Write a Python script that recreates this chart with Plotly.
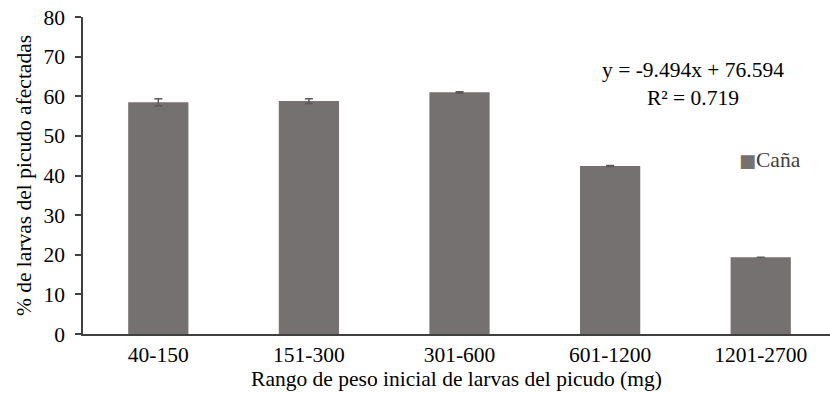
import plotly.graph_objects as go

categories = ["40-150", "151-300", "301-600", "601-1200", "1201-2700"]
values = [58.5, 58.8, 61.0, 42.4, 19.4]
errors = [0.9, 0.6, 0.15, 0.1, 0.0]
y_ticks = [0, 10, 20, 30, 40, 50, 60, 70, 80]
series_name = "Caña"
equation = "y = -9.494x + 76.594"
r2_text = "R² = 0.719"

FONT = "Liberation Serif"
AXIS = "#404040"
BAR = "#767171"
FS = 21.5

fig = go.Figure()
fig.add_trace(go.Bar(
    x=categories, y=values, name=series_name,
    marker=dict(color=BAR, line=dict(width=0)),
    width=0.4, showlegend=False,
    error_y=dict(type="data", array=errors, visible=True,
                 color="#595959", thickness=1.5, width=4),
))

fig.update_layout(
    width=830, height=393,
    margin=dict(l=83, r=0, t=17, b=59),
    paper_bgcolor="white", plot_bgcolor="white",
    font=dict(family=FONT, size=FS, color="black"),
    xaxis=dict(
        range=[-0.5, 4.46], showline=True, linecolor=AXIS, linewidth=1.5,
        ticks="", showgrid=False, zeroline=False,
        tickfont=dict(size=FS, family=FONT),
        title=dict(text="Rango de peso inicial de larvas del picudo (mg)",
                   font=dict(size=FS, family=FONT), standoff=0),
    ),
    yaxis=dict(
        range=[0, 80], tickvals=y_ticks, showline=True, linecolor=AXIS,
        linewidth=1.5, ticks="outside", ticklen=6, tickcolor=AXIS,
        tickwidth=1.5, showgrid=False, zeroline=False,
        ticklabelstandoff=6,
        tickfont=dict(size=FS, family=FONT),
        title=dict(text="% de larvas del picudo afectadas",
                   font=dict(size=FS, family=FONT), standoff=6),
    ),
)

fig.add_annotation(
    xref="paper", yref="paper", x=(693 - 83) / 747, y=(334 - 84) / 317,
    text=equation + "<br>" + r2_text, showarrow=False,
    font=dict(size=FS, family=FONT, color="black"),
    xanchor="center", yanchor="middle", align="center",
)

# legend entry
fig.add_annotation(
    xref="paper", yref="paper", x=(737 - 83) / 747, y=(334 - 160) / 317,
    text=f"<span style='color:{BAR};font-family:DejaVu Sans;font-size:18px'>■</span>{series_name}",
    showarrow=False, font=dict(size=FS, family=FONT, color="#404040"),
    xanchor="left", yanchor="middle",
)

fig.write_html("out.html")
